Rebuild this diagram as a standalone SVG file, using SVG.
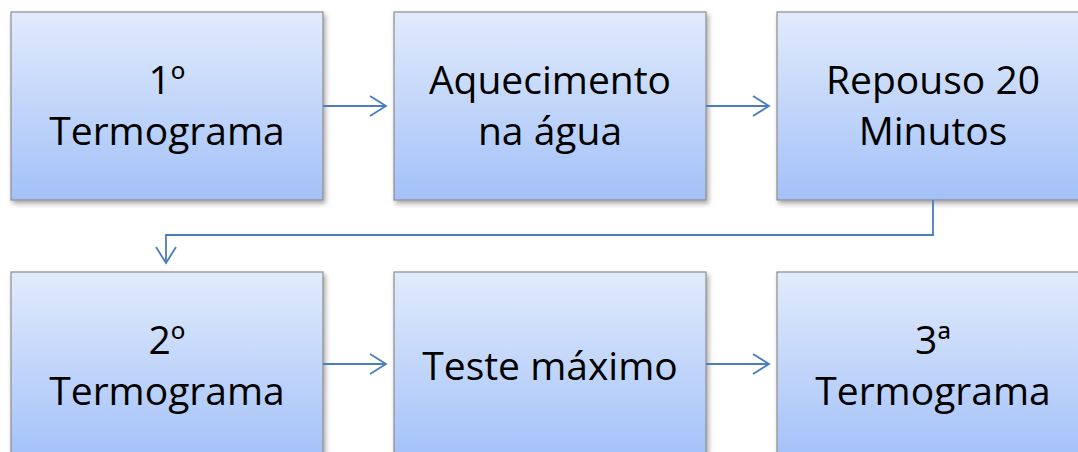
<svg xmlns="http://www.w3.org/2000/svg" width="1078" height="452" viewBox="0 0 1078 452">
<defs>
<linearGradient id="g" x1="0" y1="0" x2="0" y2="1">
<stop offset="0" stop-color="#e1ebfc"/>
<stop offset="1" stop-color="#a3c1f8"/>
</linearGradient>
<filter id="sh" x="-10%" y="-10%" width="125%" height="125%">
<feDropShadow dx="2" dy="3" stdDeviation="2.5" flood-color="#000" flood-opacity="0.35"/>
</filter>
<marker id="ah" markerWidth="20" markerHeight="24" refX="17" refY="11" orient="auto" markerUnits="userSpaceOnUse">
<path d="M1,1 L17,11 L1,21" fill="none" stroke="#4a7ebb" stroke-width="1.8"/>
</marker>
<style>
.box{fill:url(#g);stroke:#8c8c8c;stroke-width:1.2;filter:url(#sh)}
.t{font-family:"Open Sans","Liberation Sans",sans-serif;font-size:39px;fill:#000;text-anchor:middle}
.c{fill:none;stroke:#4a7ebb;stroke-width:1.8}
</style>
</defs>
<g id="n1"><rect class="box" x="11" y="12" width="312" height="188"/><text class="t" x="167" y="94">1º</text><text class="t" x="167" y="145">Termograma</text></g>
<g id="n2"><rect class="box" x="394" y="12" width="312" height="188"/><text class="t" x="550" y="94">Aquecimento</text><text class="t" x="550" y="145">na água</text></g>
<g id="n3"><rect class="box" x="777" y="12" width="312" height="188"/><text class="t" x="933" y="94">Repouso 20</text><text class="t" x="933" y="145">Minutos</text></g>
<g id="n4"><rect class="box" x="11" y="272" width="312" height="188"/><text class="t" x="167" y="354">2º</text><text class="t" x="167" y="405">Termograma</text></g>
<g id="n5"><rect class="box" x="394" y="272" width="312" height="188"/><text class="t" x="550" y="380">Teste máximo</text></g>
<g id="n6"><rect class="box" x="777" y="272" width="312" height="188"/><text class="t" x="933" y="354">3ª</text><text class="t" x="933" y="405">Termograma</text></g>
<g id="connectors">
<path class="c" d="M323,106 H386" marker-end="url(#ah)"/>
<path class="c" d="M706,106 H769" marker-end="url(#ah)"/>
<path class="c" d="M933,200 V235 H166 V263" marker-end="url(#ah)"/>
<path class="c" d="M323,364 H386" marker-end="url(#ah)"/>
<path class="c" d="M706,364 H769" marker-end="url(#ah)"/>
</g>
</svg>
